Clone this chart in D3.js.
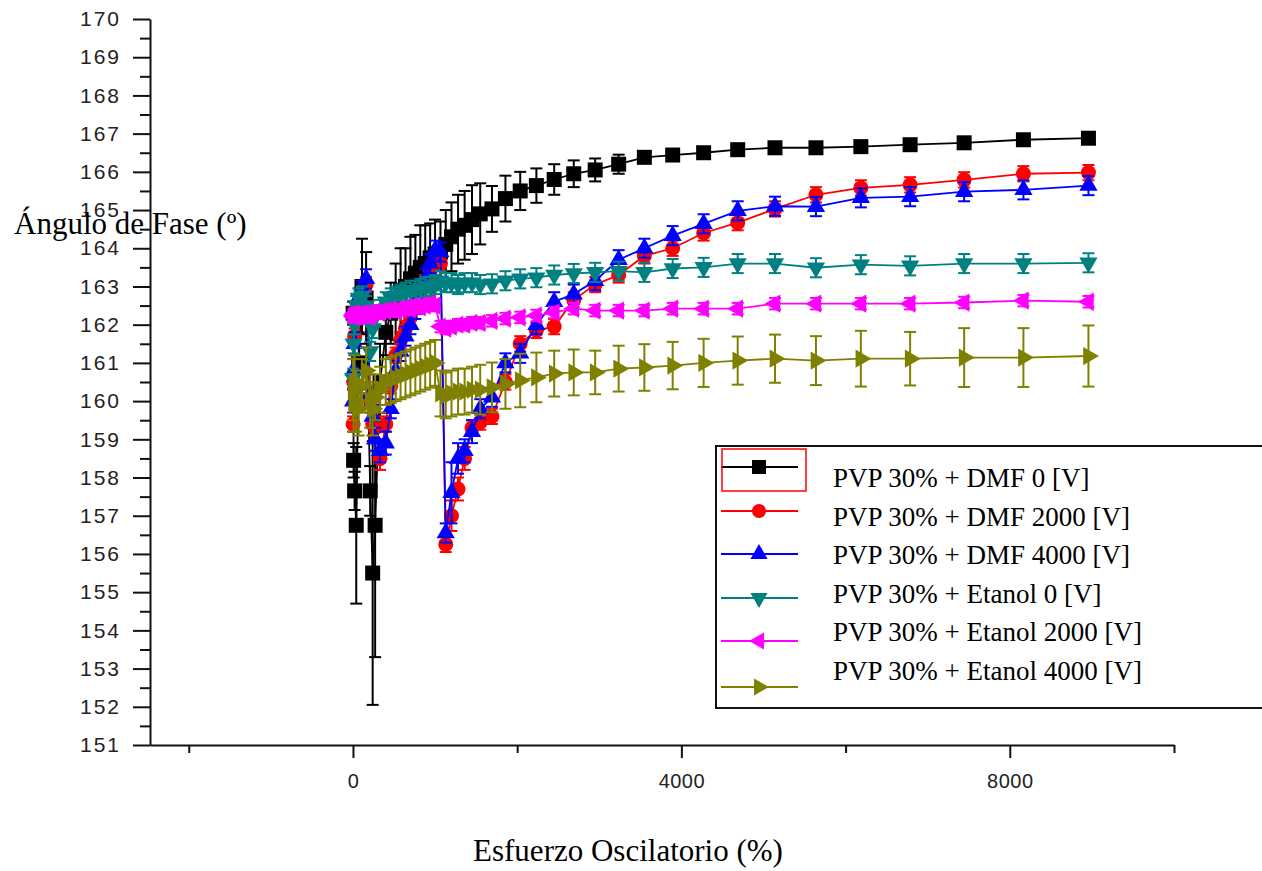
<!DOCTYPE html>
<html>
<head>
<meta charset="utf-8">
<script src="https://cdn.jsdelivr.net/npm/d3@7"></script>
<style>
  body { margin: 0; background: #fff; }
  svg { display: block; }
</style>
</head>
<body>
<svg id="chart" width="1262" height="871"></svg>
<script>
/*global d3 */

//*************************0. Data

// strain (%) shared by every series
const strain = [2, 8, 20, 40, 70, 110, 160, 210, 240, 270, 330, 400, 460, 520, 580, 640, 700, 760, 820, 880, 940, 1000,
  1066, 1130, 1200, 1280, 1360, 1450, 1550, 1693, 1857, 2037, 2234, 2451, 2689, 2950, 3236, 3549, 3894, 4271, 4686,
  5140, 5639, 6186, 6786, 7444, 8166, 8958]

const dmf0 = [162.3, 158.45, 157.65, 156.75, 161.0, 163.0, 162.7, 157.65, 155.5, 156.75, 160.5, 161.8, 162.3, 162.6, 162.9, 163.0, 163.2, 163.35, 163.5, 163.6, 163.75, 163.85,
  163.9, 164.1, 164.3, 164.5, 164.6, 164.75, 164.9, 165.03, 165.3, 165.5, 165.64, 165.8, 165.95, 166.05, 166.2, 166.38, 166.44, 166.5, 166.58,
  166.63, 166.63, 166.66, 166.71, 166.76, 166.84, 166.88]
const dmf0Err = [0.3, 0.45, 0.5, 2.05, 0.8, 1.25, 1.2, 0.65, 3.45, 3.45, 1.0, 0.6, 0.8, 1.0, 1.1, 1.0, 1.1, 1.0, 1.1, 1.0, 0.9, 0.9,
  0.8, 0.9, 0.9, 0.9, 0.9, 0.9, 0.8, 0.6, 0.6, 0.5, 0.45, 0.4, 0.35, 0.3, 0.25, 0.15, 0.12, 0.1, 0.1,
  0.08, 0.05, 0.05, 0.05, 0.05, 0.05, 0.05]

const dmf2000 = [159.4, 160.5, 161.7, 162.2, 162.6, 162.8, 163.05, 160.0, 159.4, 159.3, 158.5, 159.4, 160.4, 161.2, 161.6, 161.9, 162.2, 162.5, 162.8, 163.1, 163.4, 163.7,
  163.6, 156.25, 157.0, 157.7, 158.5, 159.3, 159.45, 159.6, 160.5, 161.5, 161.85, 161.95, 162.65, 163.05, 163.3, 163.8, 164.0, 164.4, 164.67,
  165.03, 165.4, 165.58, 165.66, 165.79, 165.95, 165.98]
const dmf2000Err = [0.2, 0.2, 0.2, 0.2, 0.2, 0.2, 0.2, 0.3, 0.3, 0.3, 0.3, 0.2, 0.2, 0.2, 0.2, 0.2, 0.2, 0.2, 0.2, 0.2, 0.2, 0.2,
  0.2, 0.2, 0.4, 0.3, 0.3, 0.2, 0.2, 0.2, 0.2, 0.2, 0.2, 0.2, 0.2, 0.2, 0.2, 0.2, 0.2, 0.2, 0.2,
  0.2, 0.2, 0.2, 0.2, 0.2, 0.2, 0.2]

const dmf4000 = [160.0, 160.8, 161.5, 162.3, 162.7, 162.9, 163.2, 160.2, 159.6, 159.0, 158.7, 158.9, 159.8, 160.8, 161.3, 161.7, 162.0, 162.4, 162.8, 163.2, 163.6, 163.95,
  163.9, 156.55, 157.6, 158.5, 158.7, 159.2, 159.8, 160.1, 161.0, 161.25, 162.0, 162.6, 162.8, 163.15, 163.7, 164.0, 164.33, 164.64, 164.98,
  165.1, 165.09, 165.32, 165.35, 165.48, 165.53, 165.64]
const dmf4000Err = [0.3, 0.3, 0.3, 0.25, 0.25, 0.25, 0.25, 0.3, 0.3, 0.3, 0.3, 0.3, 0.25, 0.25, 0.25, 0.25, 0.25, 0.25, 0.25, 0.25, 0.25, 0.25,
  0.25, 0.25, 0.8, 0.4, 0.3, 0.3, 0.25, 0.25, 0.25, 0.25, 0.25, 0.25, 0.25, 0.25, 0.25, 0.25, 0.25, 0.25, 0.25,
  0.25, 0.25, 0.25, 0.25, 0.25, 0.25, 0.25]

const etanol0 = [160.6, 161.5, 162.0, 162.5, 162.7, 162.75, 162.5, 161.3, 161.9, 162.2, 162.4, 162.6, 162.7, 162.75, 162.8, 162.85, 162.9, 162.9, 162.95, 163.0, 163.0, 163.05,
  163.15, 163.1, 163.1, 163.05, 163.1, 163.1, 163.05, 163.07, 163.15, 163.2, 163.23, 163.3, 163.34, 163.37, 163.4, 163.37, 163.47, 163.5, 163.6,
  163.6, 163.49, 163.57, 163.54, 163.6, 163.6, 163.62]
const etanol0Err = [0.25, 0.25, 0.25, 0.25, 0.25, 0.25, 0.25, 0.25, 0.25, 0.25, 0.25, 0.25, 0.25, 0.25, 0.25, 0.25, 0.25, 0.25, 0.25, 0.25, 0.25, 0.25,
  0.25, 0.25, 0.25, 0.25, 0.25, 0.25, 0.25, 0.25, 0.25, 0.25, 0.25, 0.25, 0.25, 0.25, 0.25, 0.25, 0.25, 0.25, 0.25,
  0.25, 0.25, 0.25, 0.25, 0.25, 0.25, 0.25]

const etanol2000 = [162.25, 162.2, 162.3, 162.25, 162.2, 162.3, 162.25, 162.2, 162.3, 162.35, 162.3, 162.35, 162.4, 162.35, 162.4, 162.45, 162.4, 162.5, 162.45, 162.5, 162.55, 162.5,
  161.95, 161.9, 161.95, 162.0, 162.0, 162.05, 162.05, 162.1, 162.16, 162.19, 162.24, 162.32, 162.42, 162.37, 162.37, 162.37, 162.42, 162.42, 162.42,
  162.55, 162.55, 162.55, 162.55, 162.58, 162.63, 162.6]
const etanol2000Err = [0.15, 0.15, 0.15, 0.15, 0.15, 0.15, 0.15, 0.15, 0.15, 0.15, 0.15, 0.15, 0.15, 0.15, 0.15, 0.15, 0.15, 0.15, 0.15, 0.15, 0.15, 0.15,
  0.15, 0.15, 0.15, 0.15, 0.15, 0.15, 0.15, 0.15, 0.15, 0.15, 0.15, 0.15, 0.15, 0.15, 0.15, 0.15, 0.15, 0.15, 0.15,
  0.15, 0.15, 0.15, 0.15, 0.15, 0.15, 0.15]

const etanol4000 = [160.3, 159.9, 160.5, 160.0, 159.8, 160.4, 160.8, 160.0, 159.8, 160.1, 160.3, 160.5, 160.55, 160.6, 160.65, 160.7, 160.75, 160.8, 160.85, 160.9, 160.95, 161.0,
  160.2, 160.15, 160.2, 160.25, 160.25, 160.3, 160.3, 160.36, 160.45, 160.54, 160.62, 160.72, 160.75, 160.75, 160.85, 160.88, 160.93, 161.0, 161.06,
  161.11, 161.06, 161.11, 161.11, 161.14, 161.14, 161.18]
const etanol4000Err = [0.8, 0.7, 0.7, 0.8, 0.7, 0.7, 0.6, 0.7, 0.7, 0.6, 0.6, 0.6, 0.6, 0.6, 0.6, 0.6, 0.6, 0.6, 0.6, 0.6, 0.6, 0.6,
  0.6, 0.6, 0.6, 0.6, 0.6, 0.6, 0.65, 0.65, 0.65, 0.7, 0.65, 0.6, 0.6, 0.57, 0.6, 0.61, 0.62, 0.63, 0.63,
  0.63, 0.64, 0.73, 0.7, 0.77, 0.77, 0.8]

const seriesNames = ["PVP 30% + DMF 0 [V]", "PVP 30% + DMF 2000 [V]", "PVP 30% + DMF 4000 [V]",
  "PVP 30% + Etanol 0 [V]", "PVP 30% + Etanol 2000 [V]", "PVP 30% + Etanol 4000 [V]"]
const seriesValues = [dmf0, dmf2000, dmf4000, etanol0, etanol2000, etanol4000]
const seriesErrors = [dmf0Err, dmf2000Err, dmf4000Err, etanol0Err, etanol2000Err, etanol4000Err]
const seriesColors = ["#000000", "#ff0000", "#0000ff", "#008080", "#ff00ff", "#808000"]
const seriesShapes = ["square", "circle", "up", "down", "left", "right"]

const yMajorTicks = [151, 152, 153, 154, 155, 156, 157, 158, 159, 160, 161, 162, 163, 164, 165, 166, 167, 168, 169, 170]
const yMinorTicks = [151.5, 152.5, 153.5, 154.5, 155.5, 156.5, 157.5, 158.5, 159.5, 160.5, 161.5, 162.5, 163.5, 164.5, 165.5, 166.5, 167.5, 168.5, 169.5]
const xMajorTicks = [0, 4000, 8000]
const xMinorTicks = [-2000, 2000, 6000, 10000]

async function draw() {

//*************************1. Canvas & scales
  const svg = d3.select("#chart")
  svg.append("rect").attr("width", 1262).attr("height", 871).attr("fill", "#fff")

  const x = d3.scaleLinear().domain([-2472, 10000]).range([150, 1174])
  const y = d3.scaleLinear().domain([151, 170]).range([745, 19])

//*************************2. Axes
  const axisColor = "#111"
  const tickFont = "'Liberation Sans', Arial, sans-serif"

  const yAxis = svg.append("g").attr("transform", "translate(150,0)")
    .call(d3.axisLeft(y).tickValues(yMajorTicks).tickSize(17).tickSizeOuter(0).tickPadding(12).tickFormat(d3.format("d")))
  svg.append("g").attr("transform", "translate(150,0)")
    .call(d3.axisLeft(y).tickValues(yMinorTicks).tickSize(10).tickSizeOuter(0).tickFormat(""))
    .select(".domain").remove()

  const xAxis = svg.append("g").attr("transform", "translate(0,745)")
    .call(d3.axisBottom(x).tickValues(xMajorTicks).tickSize(13).tickSizeOuter(0).tickPadding(16).tickFormat(d3.format("d")))
  svg.append("g").attr("transform", "translate(0,745)")
    .call(d3.axisBottom(x).tickValues(xMinorTicks).tickSize(8).tickSizeOuter(0).tickFormat(""))
    .select(".domain").remove()

  svg.selectAll(".domain, .tick line").attr("stroke", axisColor).attr("stroke-width", 2)
  yAxis.selectAll("text").attr("font-family", tickFont).attr("font-size", 21)
    .attr("letter-spacing", 2).attr("fill", "#222")
  xAxis.selectAll("text").attr("font-family", tickFont).attr("font-size", 20)
    .attr("letter-spacing", 0.5).attr("fill", "#222")

//*************************3. Series (error bars, line, markers)
  const symbolFor = (shape, size) => {
    if (shape === "square") return d3.symbol(d3.symbolSquare, size * size)()
    if (shape === "circle") return d3.symbol(d3.symbolCircle, Math.PI * size * size / 4)()
    return d3.symbol(d3.symbolTriangle, size * size * 0.5)()
  }
  const rotationFor = shape => ({ up: 0, down: 180, left: -90, right: 90 }[shape] || 0)

  const line = d3.line().x(d => x(d.x)).y(d => y(d.y))

  seriesValues.forEach((vals, i) => {
    const color = seriesColors[i]
    const pts = strain.map((s, j) => ({ x: s, y: vals[j], e: seriesErrors[i][j] }))
    const g = svg.append("g")

    // error bars
    const eb = g.selectAll(".eb").data(pts).join("g")
    eb.append("line")
      .attr("x1", d => x(d.x)).attr("x2", d => x(d.x))
      .attr("y1", d => y(d.y + d.e)).attr("y2", d => y(d.y - d.e))
      .attr("stroke", color).attr("stroke-width", 2)
    eb.append("line")
      .attr("x1", d => x(d.x) - 6).attr("x2", d => x(d.x) + 6)
      .attr("y1", d => y(d.y + d.e)).attr("y2", d => y(d.y + d.e))
      .attr("stroke", color).attr("stroke-width", 2)
    eb.append("line")
      .attr("x1", d => x(d.x) - 6).attr("x2", d => x(d.x) + 6)
      .attr("y1", d => y(d.y - d.e)).attr("y2", d => y(d.y - d.e))
      .attr("stroke", color).attr("stroke-width", 2)

    g.append("path").datum(pts)
      .attr("d", line).attr("fill", "none")
      .attr("stroke", color).attr("stroke-width", 1.8)

    const mSize = seriesShapes[i] === "square" ? 15 : seriesShapes[i] === "circle" ? 15 : 17
    g.selectAll(".mk").data(pts).join("path")
      .attr("d", symbolFor(seriesShapes[i], mSize))
      .attr("transform", d => `translate(${x(d.x)},${y(d.y)}) rotate(${rotationFor(seriesShapes[i])})`)
      .attr("fill", color)
  })

//*************************4. Axis titles
  svg.append("text").attr("x", 14).attr("y", 234)
    .attr("font-family", "'Liberation Serif', 'Times New Roman', serif").attr("font-size", 31)
    .attr("fill", "#000").text("Ángulo de Fase (º)")

  svg.append("text").attr("x", 628).attr("y", 861).attr("text-anchor", "middle")
    .attr("font-family", "'Liberation Serif', 'Times New Roman', serif").attr("font-size", 31)
    .attr("fill", "#000").text("Esfuerzo Oscilatorio (%)")

//*************************5. Legend
  const legend = svg.append("g")
  legend.append("rect").attr("x", 716).attr("y", 446).attr("width", 600).attr("height", 262)
    .attr("fill", "#fff").attr("stroke", "#111").attr("stroke-width", 2)

  const markY = [467, 511, 554, 598, 641, 687]
  const textY = [487, 526, 564, 603, 641, 680]
  seriesNames.forEach((name, i) => {
    legend.append("line").attr("x1", 721).attr("x2", 798).attr("y1", markY[i]).attr("y2", markY[i])
      .attr("stroke", seriesColors[i]).attr("stroke-width", 2)
    const lSize = seriesShapes[i] === "square" || seriesShapes[i] === "circle" ? 14 : 16
    legend.append("path").attr("d", symbolFor(seriesShapes[i], lSize))
      .attr("transform", `translate(759,${markY[i]}) rotate(${rotationFor(seriesShapes[i])})`)
      .attr("fill", seriesColors[i])
    legend.append("text").attr("x", 833).attr("y", textY[i])
      .attr("font-family", "'Liberation Serif', 'Times New Roman', serif").attr("font-size", 27)
      .attr("fill", "#000").text(name)
  })
  // selection box round the first entry
  legend.append("rect").attr("x", 722).attr("y", 449).attr("width", 84).attr("height", 42)
    .attr("fill", "none").attr("stroke", "#ff0000").attr("stroke-width", 1.5)

} draw()
</script>
</body>
</html>
